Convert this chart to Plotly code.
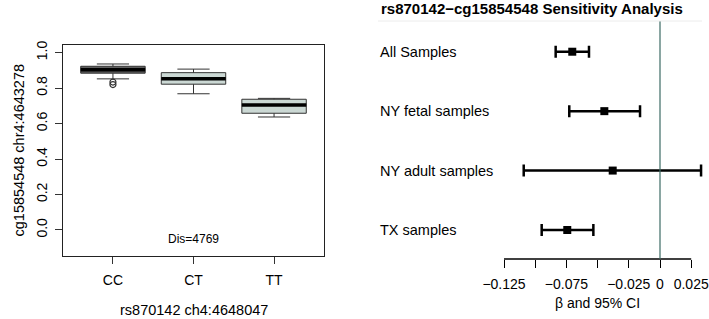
import plotly.graph_objects as go

W, H = 709, 319

# ---- left panel data (boxplot summary) ----
genotypes = ["CC", "CT", "TT"]
box_q1 = [0.884, 0.822, 0.658]
box_median = [0.903, 0.852, 0.705]
box_q3 = [0.923, 0.887, 0.737]
box_lower = [0.852, 0.768, 0.637]
box_upper = [0.936, 0.907, 0.742]
box_fill = ["#5f5f5f", "#cbd8d4", "#cbd8d4"]
outlier_group = ["CC", "CC"]
outlier_y = [0.834, 0.820]
y_ticks = [0.0, 0.2, 0.4, 0.6, 0.8, 1.0]
y_ticklabels = ["0.0", "0.2", "0.4", "0.6", "0.8", "1.0"]

# ---- right panel data (forest plot) ----
groups = ["All Samples", "NY fetal samples", "NY adult samples", "TX samples"]
beta = [-0.0703, -0.0446, -0.0379, -0.0743]
ci_low = [-0.0836, -0.0727, -0.1092, -0.0948]
ci_high = [-0.0569, -0.0160, 0.0329, -0.0534]
x_ticks = [-0.125, -0.1, -0.075, -0.05, -0.025, 0.0, 0.025]
x_ticklabels = ["\u22120.125", "", "\u22120.075", "", "\u22120.025", "0", "0.025"]

FONT = "Liberation Sans, Arial, Helvetica, sans-serif"


def px(x):
    return x / W


def py(y):
    return 1 - y / H


fig = go.Figure()

pos = {g: i + 1 for i, g in enumerate(genotypes)}
bw = 0.8
for i, g in enumerate(genotypes):
    fig.add_trace(go.Box(
        x=[pos[g]], q1=[box_q1[i]], median=[box_median[i]], q3=[box_q3[i]],
        lowerfence=[box_lower[i]], upperfence=[box_upper[i]],
        width=bw, whiskerwidth=0.5, fillcolor=box_fill[i],
        line=dict(color="#333333", width=1), boxpoints=False,
        showlegend=False, hoverinfo="skip", xaxis="x", yaxis="y"))
    fig.add_trace(go.Scatter(
        x=[pos[g] - bw / 2, pos[g] + bw / 2], y=[box_median[i], box_median[i]],
        mode="lines", line=dict(color="black", width=3.5),
        showlegend=False, hoverinfo="skip", xaxis="x", yaxis="y"))

fig.add_trace(go.Scatter(
    x=[pos[g] for g in outlier_group], y=outlier_y, mode="markers",
    marker=dict(symbol="circle-open", size=6, color="#333333", line=dict(width=1.2)),
    showlegend=False, hoverinfo="skip", xaxis="x", yaxis="y"))

rows = [len(groups) - i for i in range(len(groups))]
fig.add_trace(go.Scatter(
    x=beta, y=rows, mode="markers",
    marker=dict(symbol="square", size=8, color="black"),
    error_x=dict(type="data", symmetric=False,
                 array=[h - b for h, b in zip(ci_high, beta)],
                 arrayminus=[b - l for b, l in zip(beta, ci_low)],
                 color="black", thickness=2.5, width=6),
    showlegend=False, hoverinfo="skip", xaxis="x2", yaxis="y2", cliponaxis=False))

# scale for right panel: 0 at px 660, 0.025 per 31.2 px
scale = 31.2 / 0.025
x2_left_px, x2_right_px = 378, 705
x2_range = [(x2_left_px - 660) / scale, (x2_right_px - 660) / scale]

fig.update_layout(
    width=W, height=H, margin=dict(l=0, r=0, t=0, b=0, autoexpand=False),
    paper_bgcolor="white", plot_bgcolor="white",
    font=dict(family=FONT, size=14, color="black"),
    xaxis=dict(domain=[px(63), px(324)], range=[0.38, 3.62], automargin=False,
               tickvals=[pos[g] for g in genotypes], ticktext=genotypes,
               ticks="outside", ticklen=7, tickcolor="#333", tickwidth=1,
               showline=True, linecolor="#222", linewidth=1.2, mirror=True,
               showgrid=False, zeroline=False, tickfont=dict(size=14),
               ticklabelstandoff=4),
    yaxis=dict(domain=[py(256), py(45)], range=[-0.147, 1.043], automargin=False,
               tickvals=y_ticks, ticktext=y_ticklabels, tickangle=-90,
               ticks="outside", ticklen=7, tickcolor="#333", tickwidth=1,
               showline=True, linecolor="#222", linewidth=1.2, mirror=True,
               showgrid=False, zeroline=False, tickfont=dict(size=14),
               ticklabelstandoff=2),
    xaxis2=dict(domain=[px(x2_left_px), px(x2_right_px)], range=x2_range,
                anchor="y2", automargin=False, tickvals=x_ticks, ticktext=x_ticklabels,
                ticks="outside", ticklen=8, tickcolor="black", tickwidth=1.3,
                showline=False, showgrid=False, zeroline=False,
                tickfont=dict(size=14), ticklabelstandoff=4),
    yaxis2=dict(domain=[py(259), py(21)], range=[0.512, 4.517], anchor="x2",
                automargin=False, showticklabels=False, showline=False,
                showgrid=False, zeroline=False, ticks=""),
)

shapes = [
    dict(type="line", xref="x2", yref="y2 domain", x0=x_ticks[0], x1=x_ticks[-1],
         y0=0, y1=0, line=dict(color="black", width=1.3)),
    dict(type="line", xref="x2", yref="y2 domain", x0=0, x1=0, y0=0, y1=1,
         line=dict(color="#3c6b64", width=1.2)),
    dict(type="line", xref="paper", yref="paper", x0=px(378), x1=px(702),
         y0=py(21), y1=py(21), line=dict(color="#ececec", width=1)),
]
fig.update_layout(shapes=shapes)

C = dict(xanchor="center", yanchor="middle", showarrow=False)
ann = [
    dict(text="Dis=4769", x=2, y=-0.053, xref="x", yref="y", font=dict(size=12), **C),
    dict(text="rs870142 ch4:4648047", x=2, y=py(310), xref="x", yref="paper",
         font=dict(size=14.5), **C),
    dict(text="cg15854548 chr4:4643278", x=px(18), y=-0.147 + (1.043 + 0.147) / 2,
         xref="paper", yref="y", textangle=-90, font=dict(size=14.5), **C),
    dict(text="<b>rs870142\u2212cg15854548 Sensitivity Analysis</b>", x=px(532),
         y=py(8), xref="paper", yref="paper", font=dict(size=15), **C),
    dict(text="\u03b2 and 95% CI", x=-0.05, y=py(303), xref="x2", yref="paper",
         font=dict(size=14), **C),
]
for g, r in zip(groups, rows):
    ann.append(dict(text=g, x=px(378), y=r, xref="paper", yref="y2",
                    xanchor="left", yanchor="middle", showarrow=False,
                    font=dict(size=14.5)))
fig.update_layout(annotations=ann)

fig.write_html("out.html", config={"displayModeBar": False},
               post_script="document.body.style.margin='0';")
